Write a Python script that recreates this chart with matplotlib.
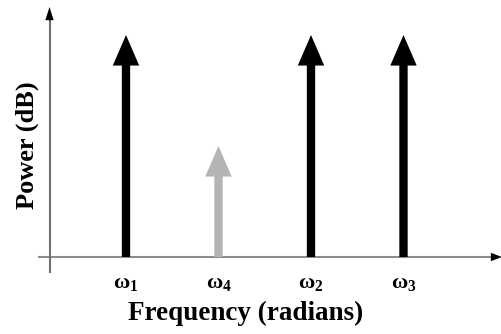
import matplotlib
matplotlib.use("Agg")
import matplotlib.pyplot as plt
from matplotlib.patches import FancyArrowPatch

# Data
subscripts = ["1", "4", "2", "3"]
positions = [1, 2, 3, 4]
powers = [1.0, 0.5, 1.0, 1.0]
colors = ["black", "#b4b4b4", "black", "black"]
xlabel = "Frequency (radians)"
ylabel = "Power (dB)"

plt.rcParams["mathtext.fontset"] = "custom"
plt.rcParams["mathtext.rm"] = "Liberation Serif:bold"
plt.rcParams["mathtext.it"] = "Liberation Serif:bold"
plt.rcParams["mathtext.bf"] = "Liberation Serif:bold"

fig = plt.figure(figsize=(5.02, 3.34), dpi=100)
ax = fig.add_axes([0, 0, 1, 1])
X0, XS = 126, 92.5   # pixel of x=1, pixels per unit
Y0, YS = 257, 222    # pixel row of y=0, pixels per unit

def px2x(p):
    return (p - X0) / XS + 1

def py2y(p):
    return (Y0 - p) / YS

ax.set_xlim(px2x(0), px2x(502))
ax.set_ylim(py2y(334), py2y(0))
ax.axis("off")

axis_color = "#8c8c8c"
# x axis
ax.plot([px2x(38), px2x(495)], [0, 0], color=axis_color, lw=1.5, solid_capstyle="butt", zorder=1)
ax.add_patch(FancyArrowPatch((px2x(490), 0), (px2x(502), 0),
                             arrowstyle="simple,head_length=8,head_width=6,tail_width=0.1",
                             mutation_scale=1, color="black", lw=0,
                             shrinkA=0, shrinkB=0, zorder=1))
# y axis
ax.plot([px2x(49.5), px2x(49.5)], [py2y(273), py2y(15)], color="#707070", lw=1.5,
        solid_capstyle="butt", zorder=1)
ax.add_patch(FancyArrowPatch((px2x(49.5), py2y(22)), (px2x(49.5), py2y(7)),
                             arrowstyle="simple,head_length=9.5,head_width=6,tail_width=0.1",
                             mutation_scale=1, color="black", lw=0,
                             shrinkA=0, shrinkB=0, zorder=1))

for x, p, c, sub in zip(positions, powers, colors, subscripts):
    ax.add_patch(FancyArrowPatch((x, 0), (x, p),
                                 arrowstyle="simple,head_length=22,head_width=19,tail_width=6",
                                 mutation_scale=1, color=c, lw=0,
                                 shrinkA=0, shrinkB=0, zorder=2))
    ax.text(x, py2y(283), r"$\omega_{%s}$" % sub, ha="center", va="center",
            fontsize=16)

ax.text(px2x(246), py2y(313), xlabel, ha="center", va="center",
        fontsize=19.5, fontweight="bold", family=["Liberation Serif", "DejaVu Serif"])
ax.text(px2x(27), py2y(145), ylabel, ha="center", va="center", rotation=90,
        fontsize=19, fontweight="bold", family=["Liberation Serif", "DejaVu Serif"])

fig.savefig("out.png", dpi=100)
